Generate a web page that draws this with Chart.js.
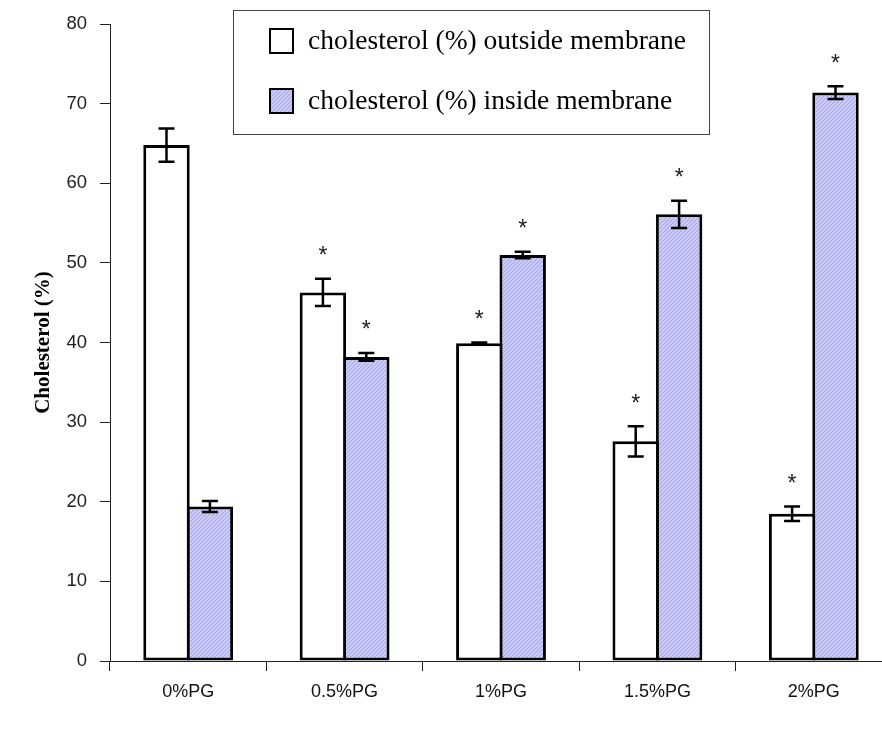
<!DOCTYPE html>
<html>
<head>
<meta charset="utf-8">
<script src="https://cdn.jsdelivr.net/npm/chart.js@4.4.1/dist/chart.umd.min.js"></script>
<style>
  html, body { margin: 0; padding: 0; overflow: hidden; background: #fff; width: 882px; height: 729px; }
  canvas { display: block; }
</style>
</head>
<body>
<canvas id="c" width="892" height="729"></canvas>
<script>
// Cholesterol distribution vs propylene glycol content
const categories = ['0%PG', '0.5%PG', '1%PG', '1.5%PG', '2%PG'];
const outside    = [64.8, 46.3, 39.9, 27.6, 18.5];
const outsideErr = [2.1, 1.7, 0.1, 1.9, 0.9];
const outsideSig = [false, true, true, true, true];
const inside     = [19.4, 38.2, 51.0, 56.1, 71.4];
const insideErr  = [0.7, 0.5, 0.4, 1.7, 0.8];
const insideSig  = [false, true, true, true, true];
const yTicks     = [0, 10, 20, 30, 40, 50, 60, 70, 80];
const seriesNames = ['cholesterol (%) outside membrane', 'cholesterol (%) inside membrane'];

const canvas = document.getElementById('c');
const ctx0 = canvas.getContext('2d');

// light violet fill with fine diagonal hatching
function makeHatch() {
  const p = document.createElement('canvas');
  p.width = 4; p.height = 4;
  const g = p.getContext('2d');
  g.fillStyle = '#c9c9fb';
  g.fillRect(0, 0, 4, 4);
  g.strokeStyle = '#a3a3ec';
  g.lineWidth = 1;
  g.beginPath();
  g.moveTo(0, 4); g.lineTo(4, 0);
  g.moveTo(-1, 1); g.lineTo(1, -1);
  g.moveTo(3, 5); g.lineTo(5, 3);
  g.stroke();
  return ctx0.createPattern(p, 'repeat');
}
const hatch = makeHatch();

// error bars and significance asterisks
const errorBars = {
  id: 'errorBars',
  afterDatasetsDraw(chart) {
    const ctx = chart.ctx;
    const y = chart.scales.y;
    const sets = [[outside, outsideErr, outsideSig], [inside, insideErr, insideSig]];
    ctx.save();
    sets.forEach((s, di) => {
      const meta = chart.getDatasetMeta(di);
      meta.data.forEach((bar, j) => {
        const v = s[0][j], e = s[1][j];
        const x = bar.x;
        const yt = y.getPixelForValue(v + e);
        const yb = y.getPixelForValue(v - e);
        ctx.strokeStyle = '#000';
        ctx.lineWidth = 2.5;
        ctx.beginPath();
        ctx.moveTo(x, yt); ctx.lineTo(x, yb);
        ctx.moveTo(x - 8, yt); ctx.lineTo(x + 8, yt);
        ctx.moveTo(x - 8, yb); ctx.lineTo(x + 8, yb);
        ctx.stroke();
        if (s[2][j]) {
          ctx.font = '23px "Liberation Sans", Arial, sans-serif';
          ctx.fillStyle = '#222';
          ctx.textAlign = 'center';
          ctx.textBaseline = 'alphabetic';
          const m = ctx.measureText('*');
          const cy = yt - 28;
          const base = cy + (m.actualBoundingBoxAscent - m.actualBoundingBoxDescent) / 2;
          ctx.fillText('*', x, base);
        }
      });
    });
    ctx.restore();
  }
};

// boxed legend
const boxLegend = {
  id: 'boxLegend',
  afterDraw(chart) {
    const ctx = chart.ctx;
    ctx.save();
    ctx.fillStyle = '#fff';
    ctx.fillRect(233, 10, 477, 125);
    ctx.strokeStyle = '#444';
    ctx.lineWidth = 1;
    ctx.strokeRect(233.5, 10.5, 476, 124);
    const rows = [41, 101];
    const fills = ['#fff', hatch];
    rows.forEach((cy, i) => {
      ctx.fillStyle = fills[i];
      ctx.fillRect(270, cy - 12, 23, 24);
      ctx.strokeStyle = '#000';
      ctx.lineWidth = 2;
      ctx.strokeRect(270, cy - 12, 23, 24);
      ctx.fillStyle = '#000';
      ctx.font = '27.5px "Liberation Serif", "Times New Roman", serif';
      ctx.textAlign = 'left';
      ctx.textBaseline = 'middle';
      ctx.fillText(seriesNames[i], 308, cy + 1);
    });
    ctx.restore();
  }
};

new Chart(canvas, {
  type: 'bar',
  data: {
    labels: categories,
    datasets: [
      {
        label: seriesNames[0],
        data: outside,
        backgroundColor: '#ffffff',
        borderColor: '#000',
        borderWidth: 3,
        borderSkipped: false,
        categoryPercentage: 0.555,
        barPercentage: 1.07
      },
      {
        label: seriesNames[1],
        data: inside,
        backgroundColor: hatch,
        borderColor: '#000',
        borderWidth: 3,
        borderSkipped: false,
        categoryPercentage: 0.555,
        barPercentage: 1.07
      }
    ]
  },
  options: {
    responsive: false,
    animation: false,
    layout: { padding: { top: 19, left: 0, right: 0, bottom: 0 } },
    plugins: { legend: { display: false }, tooltip: { enabled: false } },
    scales: {
      x: {
        offset: true,
        grid: { offset: true, drawOnChartArea: false, drawTicks: true, tickLength: 10, color: '#222', lineWidth: 1 },
        border: { display: true, color: '#222', width: 1 },
        ticks: { color: '#111', padding: 10, font: { family: '"Liberation Sans", Arial, sans-serif', size: 18 } },
        afterFit(scale) { scale.height = 68; }
      },
      y: {
        min: 0,
        max: 80,
        afterBuildTicks(scale) { scale.ticks = yTicks.map(v => ({ value: v })); },
        grid: { drawOnChartArea: false, drawTicks: true, tickLength: 10, color: '#222', lineWidth: 1 },
        border: { display: true, color: '#222', width: 1 },
        ticks: { color: '#222', padding: 13, font: { family: '"Liberation Sans", Arial, sans-serif', size: 18.5 } },
        title: {
          display: true,
          text: 'Cholesterol (%)',
          color: '#000',
          font: { family: '"Liberation Serif", "Times New Roman", serif', size: 21, weight: 'bold' },
          padding: { top: 31, bottom: 0 }
        },
        afterFit(scale) { scale.width = 110; }
      }
    }
  },
  plugins: [errorBars, boxLegend]
});
</script>
</body>
</html>
